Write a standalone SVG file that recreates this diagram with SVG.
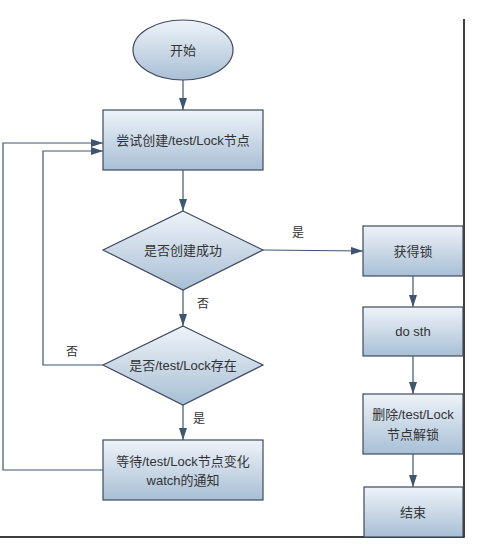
<svg xmlns="http://www.w3.org/2000/svg" width="501" height="560" viewBox="0 0 501 560">
<defs>
<linearGradient id="g" x1="0" y1="0" x2="0" y2="1">
<stop offset="0" stop-color="#eef3f9"/>
<stop offset="1" stop-color="#a8bfd5"/>
</linearGradient>
<marker id="ah" markerWidth="12" markerHeight="8" refX="12" refY="4" orient="auto" markerUnits="userSpaceOnUse">
<path d="M0,0 L12,4 L0,8 Z" fill="#3f5670"/>
</marker>
<style>
.n{fill:url(#g);stroke:#3d4b5c;stroke-width:1.2}
.t{font-family:"Liberation Sans","Noto Sans CJK SC",sans-serif;font-size:13px;fill:#333;text-anchor:middle;dominant-baseline:central}
.l{font-family:"Liberation Serif","Noto Sans CJK SC",serif;font-size:12px;fill:#333;text-anchor:middle;dominant-baseline:central}
.c{fill:none;stroke:#3f5670;stroke-width:1.2;marker-end:url(#ah)}
.b{fill:none;stroke:#000;stroke-width:1.5}
</style>
</defs>
<rect width="501" height="560" fill="#fff"/>
<path class="b" d="M464,19 V537 H0"/>
<g id="start"><ellipse class="n" cx="183" cy="50" rx="50" ry="30"/><text class="t" x="183" y="50">开始</text></g>
<g id="try"><rect class="n" x="103" y="110" width="160" height="60"/><text class="t" x="183" y="140">尝试创建/test/Lock节点</text></g>
<g id="ok"><polygon class="n" points="183,211 263,250 183,290 103,250"/><text class="t" x="183" y="250">是否创建成功</text></g>
<g id="exists"><polygon class="n" points="183,326 263,365 183,405 103,365"/><text class="t" x="183" y="365">是否/test/Lock存在</text></g>
<g id="wait"><rect class="n" x="103" y="440" width="160" height="60"/><text class="t" x="183" y="461">等待/test/Lock节点变化</text><text class="t" x="183" y="480">watch的通知</text></g>
<g id="lock"><rect class="n" x="363" y="226" width="100" height="50"/><text class="t" x="413" y="251">获得锁</text></g>
<g id="do"><rect class="n" x="363" y="307" width="100" height="49"/><text class="t" x="413" y="331">do sth</text></g>
<g id="del"><rect class="n" x="363" y="394" width="100" height="60"/><text class="t" x="413" y="414">删除/test/Lock</text><text class="t" x="413" y="434">节点解锁</text></g>
<g id="end"><rect class="n" x="364" y="487" width="99" height="50"/><text class="t" x="413" y="512">结束</text></g>
<g id="connectors">
<path class="c" d="M183,80 V110"/>
<path class="c" d="M183,170 V211"/>
<path class="c" d="M263,250 L363,251"/>
<path class="c" d="M183,290 V326"/>
<path class="c" d="M183,405 V440"/>
<path class="c" d="M103,365 H43 V151 H103"/>
<path class="c" d="M103,470 H3 V143 H103"/>
<path class="c" d="M413,276 V307"/>
<path class="c" d="M413,356 V394"/>
<path class="c" d="M413,454 V487"/>
<text class="l" x="298" y="233">是</text>
<text class="l" x="203" y="304">否</text>
<text class="l" x="72" y="352">否</text>
<text class="l" x="199" y="419">是</text>
</g>
</svg>
